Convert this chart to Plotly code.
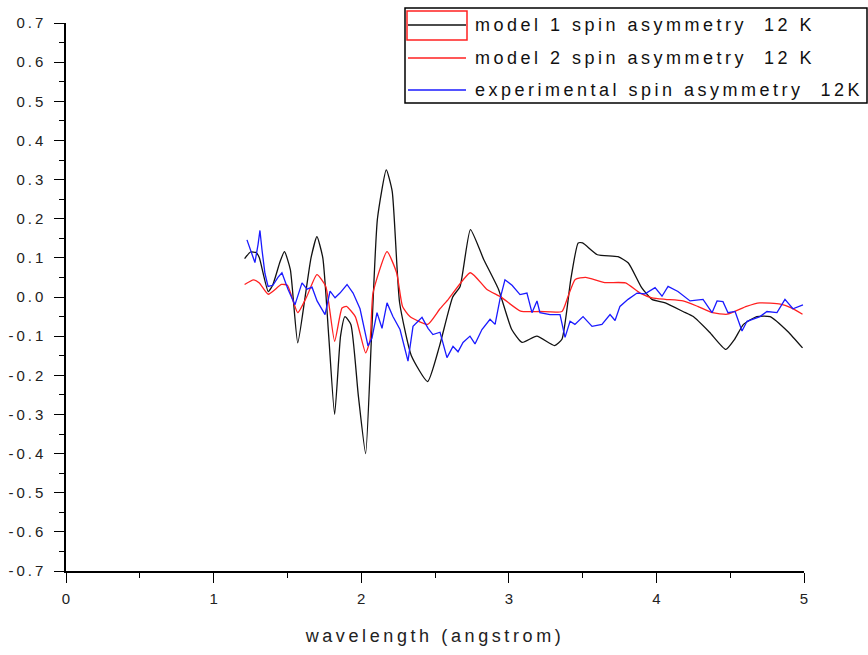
import plotly.graph_objects as go

# ---------------- data ----------------
model1_wl = [1.21, 1.25, 1.29, 1.31, 1.37, 1.40, 1.45, 1.48, 1.52, 1.57, 1.62, 1.66, 1.70, 1.74,
             1.78, 1.82, 1.86, 1.89, 1.93, 1.98, 2.03, 2.07, 2.11, 2.17, 2.21, 2.26, 2.34, 2.45,
             2.53, 2.62, 2.67, 2.74, 2.83, 2.93, 3.02, 3.09, 3.19, 3.31, 3.36, 3.42, 3.47, 3.50,
             3.60, 3.74, 3.81, 3.90, 3.97, 4.06, 4.18, 4.25, 4.36, 4.47, 4.53, 4.59, 4.68, 4.77,
             4.89, 4.99]
model1_asym = [0.098, 0.115, 0.113, 0.100, 0.014, 0.030, 0.090, 0.116, 0.070, -0.117, 0.000, 0.100,
               0.154, 0.100, -0.100, -0.300, -0.100, -0.050, -0.070, -0.250, -0.400, -0.100, 0.200,
               0.325, 0.270, -0.014, -0.150, -0.216, -0.126, 0.000, 0.027, 0.172, 0.096, 0.020,
               -0.083, -0.116, -0.100, -0.124, -0.108, 0.045, 0.138, 0.138, 0.108, 0.103, 0.087,
               0.024, -0.006, -0.015, -0.037, -0.050, -0.090, -0.134, -0.108, -0.070, -0.050,
               -0.050, -0.088, -0.130]

model2_wl = [1.21, 1.27, 1.31, 1.37, 1.46, 1.50, 1.57, 1.63, 1.70, 1.76, 1.82, 1.87, 1.90, 1.96,
             2.03, 2.06, 2.08, 2.175, 2.24, 2.28, 2.33, 2.45, 2.53, 2.59, 2.74, 2.85, 2.95, 3.08,
             3.21, 3.36, 3.40, 3.45, 3.52, 3.65, 3.79, 3.89, 3.97, 4.06, 4.18, 4.28, 4.38, 4.48,
             4.61, 4.70, 4.84, 4.91, 4.99]
model2_asym = [0.032, 0.044, 0.036, 0.007, 0.032, 0.030, -0.040, 0.000, 0.057, 0.027, -0.113,
               -0.028, -0.024, -0.050, -0.143, -0.110, 0.010, 0.116, 0.062, -0.024, -0.050,
               -0.070, -0.032, -0.006, 0.062, 0.020, -0.001, -0.036, -0.037, -0.037, 0.000,
               0.045, 0.050, 0.037, 0.036, 0.010, -0.002, -0.006, -0.010, -0.024, -0.040,
               -0.044, -0.024, -0.015, -0.018, -0.027, -0.044]

exp_wl = [1.226, 1.247, 1.280, 1.301, 1.314, 1.328, 1.348, 1.369, 1.402, 1.436, 1.463, 1.504,
          1.551, 1.599, 1.633, 1.667, 1.701, 1.755, 1.789, 1.823, 1.856, 1.904, 1.945, 1.992,
          2.046, 2.073, 2.107, 2.141, 2.175, 2.215, 2.263, 2.317, 2.351, 2.412, 2.453, 2.486,
          2.534, 2.581, 2.622, 2.656, 2.690, 2.737, 2.771, 2.818, 2.873, 2.907, 2.940, 2.974,
          3.022, 3.076, 3.123, 3.157, 3.191, 3.211, 3.279, 3.347, 3.381, 3.415, 3.448, 3.503,
          3.564, 3.631, 3.686, 3.720, 3.753, 3.808, 3.869, 3.923, 3.991, 4.038, 4.079, 4.146,
          4.228, 4.316, 4.377, 4.411, 4.451, 4.485, 4.533, 4.580, 4.614, 4.702, 4.749, 4.817,
          4.871, 4.925, 4.993]
exp_asym = [0.146, 0.125, 0.088, 0.134, 0.170, 0.120, 0.060, 0.027, 0.030, 0.050, 0.062, 0.020,
            -0.020, 0.036, 0.020, 0.025, -0.010, -0.045, 0.015, -0.002, 0.010, 0.032, 0.010,
            -0.030, -0.125, -0.105, -0.040, -0.080, -0.015, -0.050, -0.083, -0.164, -0.075,
            -0.052, -0.080, -0.096, -0.090, -0.155, -0.126, -0.140, -0.116, -0.100, -0.120,
            -0.083, -0.057, -0.070, -0.006, 0.044, 0.030, 0.006, 0.010, -0.040, -0.010, -0.040,
            -0.045, -0.045, -0.103, -0.062, -0.070, -0.050, -0.075, -0.070, -0.045, -0.060,
            -0.024, -0.006, 0.010, 0.008, 0.024, 0.002, 0.027, 0.014, -0.010, -0.006, -0.040,
            -0.010, -0.012, -0.040, -0.037, -0.087, -0.062, -0.050, -0.037, -0.040, -0.006,
            -0.030, -0.020]

series_names = ["model 1 spin asymmetry  12 K",
                "model 2 spin asymmetry  12 K",
                "experimental spin asymmetry  12K"]
series_colors = ["#111111", "#ff2020", "#1a1aff"]

x_ticks = [0, 1, 2, 3, 4, 5]
y_ticks = [round(-0.7 + 0.1 * i, 1) for i in range(15)]

# ---------------- figure ----------------
W, H = 868, 655
L, R, T, B = 66, 64, 23, 84
FONT = "Liberation Sans, Arial, sans-serif"


def spaced(s, sp):
    return f'<span style="letter-spacing:{sp}px">{s}</span>'


fig = go.Figure()
for xs, ys, name, col in [(model1_wl, model1_asym, series_names[0], series_colors[0]),
                          (model2_wl, model2_asym, series_names[1], series_colors[1]),
                          (exp_wl, exp_asym, series_names[2], series_colors[2])]:
    fig.add_trace(go.Scatter(x=xs, y=ys, mode="lines", name=name,
                             line=dict(color=col, width=1.3, shape="spline", smoothing=0.5),
                             showlegend=False))
fig.data[2].line.shape = "linear"

axis_common = dict(showgrid=False, zeroline=False, showline=True, linecolor="black",
                   linewidth=1.5, ticks="outside", ticklen=10, tickwidth=1.3,
                   tickcolor="black", tickfont=dict(family=FONT, size=15, color="#222"),
                   minor=dict(ticks="outside", ticklen=5, tickwidth=1.2, tickcolor="black"),
                   automargin=False)

fig.update_xaxes(range=[0, 5], tickvals=x_ticks, ticktext=[str(v) for v in x_ticks],
                 minor_dtick=0.5, minor_tick0=0, ticklabelstandoff=3,
                 title=dict(text=spaced("wavelength (angstrom)", 3.6),
                            font=dict(family=FONT, size=18, color="#222"), standoff=24),
                 **axis_common)
fig.update_yaxes(range=[-0.7, 0.7], tickvals=y_ticks,
                 ticktext=[spaced(f"{v:.1f}", 3) for v in y_ticks],
                 minor_dtick=0.05, minor_tick0=0, ticklabelstandoff=5,
                 **axis_common)

pw, ph = W - L - R, H - T - B


def px(x):
    return (x - L) / pw


def py(y):
    return (H - B - y) / ph


shapes = []
# legend box
shapes.append(dict(type="rect", xref="paper", yref="paper", x0=px(405), x1=px(867),
                   y0=py(103), y1=py(8), line=dict(color="black", width=1.5),
                   fillcolor="white", layer="above"))
# red highlight frame around first sample
shapes.append(dict(type="rect", xref="paper", yref="paper", x0=px(407), x1=px(467),
                   y0=py(40), y1=py(11), line=dict(color="#ff2020", width=1.5), layer="above"))
annotations = []
rows_y = [25, 58, 90]
for yy, name, col in zip(rows_y, series_names, series_colors):
    shapes.append(dict(type="line", xref="paper", yref="paper", x0=px(408), x1=px(466),
                       y0=py(yy), y1=py(yy), line=dict(color=col, width=1.3), layer="above"))
    annotations.append(dict(xref="paper", yref="paper", x=px(473), y=py(yy),
                            text=spaced(name, 3.5),
                            showarrow=False, xanchor="left", yanchor="middle",
                            font=dict(family=FONT, size=18, color="#111")))

fig.update_layout(width=W, height=H, margin=dict(l=L, r=R, t=T, b=B, autoexpand=False),
                  plot_bgcolor="white", paper_bgcolor="white",
                  shapes=shapes, annotations=annotations, showlegend=False)

fig.write_html("out.html")
